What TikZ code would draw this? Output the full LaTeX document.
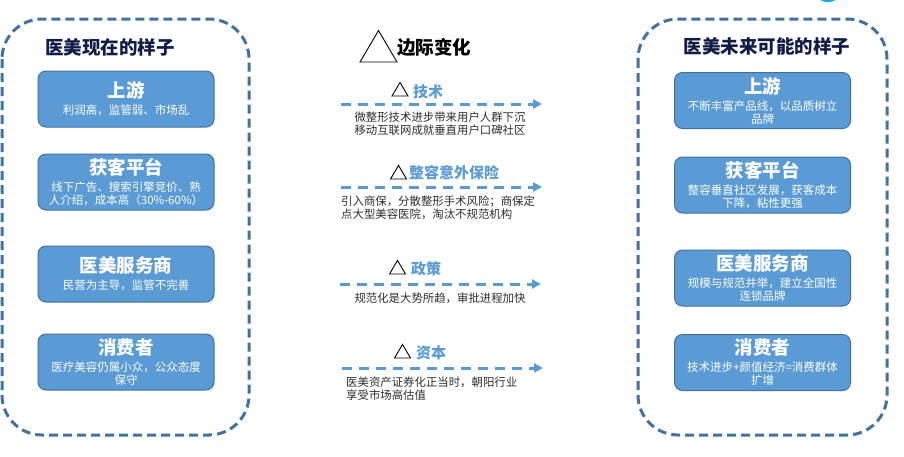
\documentclass[tikz,border=0pt]{standalone}
\usepackage{fontspec}
\setmainfont{Noto Sans CJK SC}
\usetikzlibrary{arrows.meta, positioning}
\definecolor{framecol}{RGB}{68,114,160}
\definecolor{boxcol}{RGB}{91,155,213}
\definecolor{boxedge}{RGB}{65,113,156}
\definecolor{titlecol}{RGB}{16,28,72}
\definecolor{textcol}{RGB}{45,45,45}
\definecolor{dotcol}{RGB}{0,176,240}
\newcommand{\boxhead}{\fontsize{18.5pt}{20pt}\selectfont\bfseries}
\tikzset{
  deltamark/.pic={
    \draw[black, line width=0.9pt, line join=miter]
      (-0.5,0) -- (0.5,0) -- (0,-0.85) -- cycle;
  },
  stage/.style={draw=boxedge, fill=boxcol, line width=1pt, rounded corners=8pt,
    minimum width=176pt, minimum height=56pt, inner sep=0pt, align=center,
    text=white, font=\fontsize{11.5pt}{13pt}\selectfont},
  outline/.style={framecol, line width=3pt, dash pattern=on 9pt off 5pt,
    rounded corners=40pt},
  driftarrow/.style={boxcol, line width=3pt, dash pattern=on 10pt off 7pt,
    -{Triangle[length=9pt, width=9pt]}},
  changenote/.style={text=textcol, font=\fontsize{11.4pt}{13pt}\selectfont,
    inner sep=0pt},
  factor/.style={text=boxcol, font=\fontsize{15pt}{17pt}\selectfont\bfseries,
    inner sep=0pt, anchor=west},
  heading/.style={font=\fontsize{18.5pt}{20pt}\selectfont\bfseries, inner sep=0pt}
}

\begin{document}
\begin{tikzpicture}[x=1pt, y=-1pt]

  \useasboundingbox (0,0) rectangle (904,456);

  % --- stray dot at the top edge ------------------------------------------
  \fill[dotcol] (828,-14) circle (16);

  % --- the two dashed frames ----------------------------------------------
  \draw[outline] (2,19) rectangle (249,435);
  \draw[outline] (638,19) rectangle (887,435);

  \node[heading, text=titlecol] (NowTitle) at (110,47) {医美现在的样子};
  \node[heading, text=titlecol] (FutTitle) at (767,46) {医美未来可能的样子};

  % --- today, left column -------------------------------------------------
  \node[stage] (NowUp) at (126,99) {{\boxhead 上游}\\[4pt]利润高，监管弱、市场乱};
  \node[stage] (NowPlat) at (126,182)
    {{\boxhead 获客平台}\\[4pt]线下广告、搜索引擎竞价、熟\\人介绍，成本高（30\%-60\%）};
  \node[stage] (NowServ) at (126,274) {{\boxhead 医美服务商}\\[4pt]民营为主导，监管不完善};
  \node[stage] (NowCons) at (126,362)
    {{\boxhead 消费者}\\[4pt]医疗美容仍属小众，公众态度\\保守};

  % --- future, right column -----------------------------------------------
  \node[stage] (FutUp) at (762.5,100.5)
    {{\boxhead 上游}\\[4pt]不断丰富产品线，以品质树立\\品牌};
  \node[stage] (FutPlat) at (762.5,185)
    {{\boxhead 获客平台}\\[4pt]整容垂直社区发展，获客成本\\下降，粘性更强};
  \node[stage] (FutServ) at (762.5,278)
    {{\boxhead 医美服务商}\\[4pt]规模与规范并举，建立全国性\\连锁品牌};
  \node[stage] (FutCons) at (762.5,362.5)
    {{\boxhead 消费者}\\[4pt]技术进步+颜值经济=消费群体\\扩增};

  % --- middle: the marginal changes ---------------------------------------
  \pic[scale=37] at (378.5,62) {deltamark};
  \node[heading, text=black] (ShiftTitle) at (434,47) {边际变化};

  % technology
  \coordinate (TechStart) at (341,104);
  \coordinate (TechEnd) at (542,104);
  \pic[scale=16] at (400,96) {deltamark};
  \node[factor] (TechLabel) at (413,91.5) {技术};
  \draw[driftarrow] (TechStart) -- (TechEnd);
  \node[changenote, align=center] (TechNote) at (440,123.5)
    {微整形技术进步带来用户人群下沉\\移动互联网成就垂直用户口碑社区};

  % insurance
  \coordinate (InsStart) at (341,187);
  \coordinate (InsEnd) at (542,187);
  \pic[scale=16] at (398.5,179) {deltamark};
  \node[factor] (InsLabel) at (409,173) {整容意外保险};
  \draw[driftarrow] (InsStart) -- (InsEnd);
  \node[changenote, align=left, anchor=west] (InsNote) at (341,208)
    {引入商保，分散整形手术风险；商保定\\点大型美容医院，淘汰不规范机构};

  % policy
  \coordinate (PolStart) at (340,284);
  \coordinate (PolEnd) at (541,284);
  \pic[scale=16] at (397.5,274) {deltamark};
  \node[factor] (PolLabel) at (411,269) {政策};
  \draw[driftarrow] (PolStart) -- (PolEnd);
  \node[changenote, align=center] (PolNote) at (440,298)
    {规范化是大势所趋，审批进程加快};

  % capital
  \coordinate (CapStart) at (342,368);
  \coordinate (CapEnd) at (543,368);
  \pic[scale=16] at (402.5,358) {deltamark};
  \node[factor] (CapLabel) at (416,353) {资本};
  \draw[driftarrow] (CapStart) -- (CapEnd);
  \node[changenote, align=left, anchor=west] (CapNote) at (346,389)
    {医美资产证券化正当时，朝阳行业\\享受市场高估值};

\end{tikzpicture}
\end{document}
